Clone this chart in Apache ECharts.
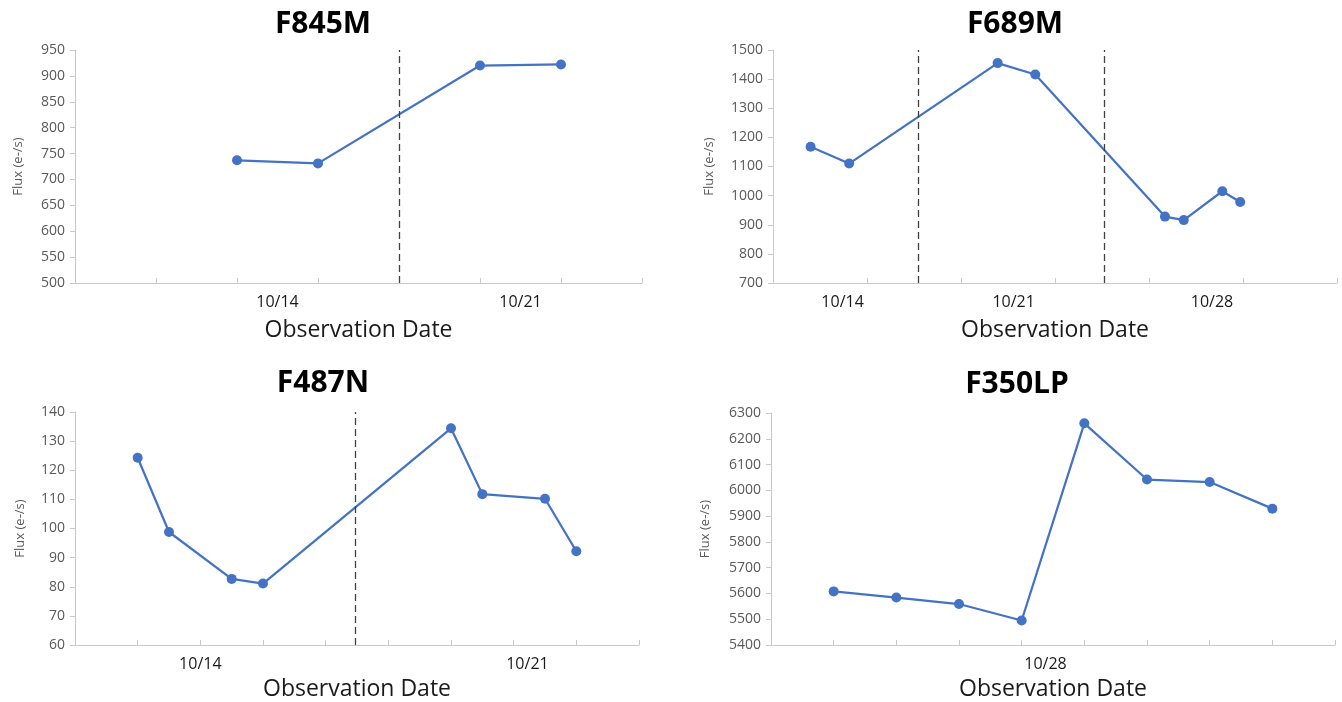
<!DOCTYPE html>
<html>
<head>
<meta charset="utf-8">
<script src="https://cdn.jsdelivr.net/npm/echarts@6/dist/echarts.min.js"></script>
<style>
  html, body { margin: 0; padding: 0; background: #fff; }
  #main { width: 1342px; height: 702px; }
</style>
</head>
<body>
<div id="main"></div>
<script>
// panel titles (filters)
var filters = ['F845M', 'F689M', 'F487N', 'F350LP'];

// x = position along the date axis, in tick units; y = flux (e-/s)
var f845mX = [2, 3, 5, 6];
var f845mY = [737, 731, 920, 922];
var f689mX = [0.40, 0.81, 2.39, 2.79, 4.17, 4.37, 4.78, 4.97];
var f689mY = [1168, 1110, 1455, 1416, 928, 916, 1015, 978];
var f487nX = [1, 1.5, 2.5, 3, 6, 6.5, 7.5, 8];
var f487nY = [124.3, 98.8, 82.7, 81.1, 134.4, 111.8, 110.2, 92.2];
var f350lpX = [1, 2, 3, 4, 5, 6, 7, 8];
var f350lpY = [5608, 5584, 5559, 5495, 6260, 6042, 6032, 5929];

// dashed separators (same x units)
var f845mBreaks = [4];
var f689mBreaks = [1.55, 3.52];
var f487nBreaks = [4.47];
var f350lpBreaks = [];

// date tick labels and where they sit
var f845mDatePos = [2.5, 5.5];
var f845mDates = ['10/14', '10/21'];
var f689mDatePos = [0.74, 2.56, 4.67];
var f689mDates = ['10/14', '10/21', '10/28'];
var f487nDatePos = [2, 7.22];
var f487nDates = ['10/14', '10/21'];
var f350lpDatePos = [4.38];
var f350lpDates = ['10/28'];

// number of tick intervals on each x axis
var xSpans = [7, 6, 9, 9];

// y axis ranges
var yMins = [500, 700, 60, 5400];
var yMaxs = [950, 1500, 140, 6300];
var ySteps = [50, 100, 10, 100];

var panels = [
    {x: f845mX, y: f845mY, breaks: f845mBreaks, pos: f845mDatePos, dates: f845mDates},
    {x: f689mX, y: f689mY, breaks: f689mBreaks, pos: f689mDatePos, dates: f689mDates},
    {x: f487nX, y: f487nY, breaks: f487nBreaks, pos: f487nDatePos, dates: f487nDates},
    {x: f350lpX, y: f350lpY, breaks: f350lpBreaks, pos: f350lpDatePos, dates: f350lpDates}
];

// layout of the four plot areas
var grids = [
    {left: 75, top: 50, width: 567, height: 233},
    {left: 773, top: 50, width: 564, height: 233},
    {left: 75, top: 412, width: 564, height: 233},
    {left: 771, top: 413, width: 564, height: 232}
];
var titlePos = [[318, 4], [1010, 4], [318, 363], [1012, 364]];
var xNameGap = [36, 36, 33, 33];
var yNameGap = [50, 57, 48, 59];

var lineColor = '#4472C4';
var axisGray = '#c9c9c9';
var labelGray = '#595959';

var myChart = echarts.init(document.getElementById('main'));

var option = {
    animation: false,
    backgroundColor: '#fff',
    title: [],
    grid: [],
    xAxis: [],
    yAxis: [],
    series: []
};

panels.forEach(function (p, i) {
    option.title.push({
        text: filters[i],
        left: titlePos[i][0],
        top: titlePos[i][1],
        textAlign: 'center',
        textStyle: {
            fontFamily: 'Open Sans',
            fontSize: 30,
            fontWeight: 'bold',
            color: '#000'
        }
    });
    option.grid.push({
        left: grids[i].left,
        top: grids[i].top,
        width: grids[i].width,
        height: grids[i].height
    });

    var ticks = [];
    for (var k = 1; k <= xSpans[i]; k++) {
        ticks.push(k);
    }
    option.xAxis.push({
        type: 'value',
        gridIndex: i,
        min: 0,
        max: xSpans[i],
        name: 'Observation Date',
        nameLocation: 'middle',
        nameGap: xNameGap[i],
        nameTextStyle: {
            fontFamily: 'Open Sans',
            fontSize: 23,
            color: '#1a1a1a'
        },
        axisLine: {
            show: true,
            lineStyle: {color: axisGray, width: 1}
        },
        axisTick: {
            show: true,
            inside: true,
            length: 5,
            customValues: ticks,
            lineStyle: {color: axisGray}
        },
        axisLabel: {
            show: true,
            customValues: p.pos,
            margin: 11,
            fontFamily: 'Open Sans',
            fontSize: 16,
            color: '#1a1a1a',
            formatter: function (v) {
                for (var j = 0; j < p.pos.length; j++) {
                    if (Math.abs(p.pos[j] - v) < 1e-6) return p.dates[j];
                }
                return '';
            }
        },
        splitLine: {show: false}
    });
    option.yAxis.push({
        type: 'value',
        gridIndex: i,
        min: yMins[i],
        max: yMaxs[i],
        interval: ySteps[i],
        name: 'Flux (e-/s)',
        nameLocation: 'middle',
        nameGap: yNameGap[i],
        nameTextStyle: {
            fontFamily: 'Open Sans',
            fontSize: 13,
            color: labelGray
        },
        axisLine: {
            show: true,
            lineStyle: {color: axisGray, width: 1}
        },
        axisTick: {
            show: true,
            length: 5,
            lineStyle: {color: axisGray}
        },
        axisLabel: {
            margin: 10,
            fontFamily: 'Open Sans',
            fontSize: 14,
            color: labelGray,
            formatter: function (v) { return String(v); }
        },
        splitLine: {show: false}
    });

    var pts = [];
    for (var n = 0; n < p.x.length; n++) {
        pts.push([p.x[n], p.y[n]]);
    }
    option.series.push({
        type: 'line',
        xAxisIndex: i,
        yAxisIndex: i,
        data: pts,
        symbol: 'circle',
        symbolSize: 10,
        itemStyle: {color: lineColor},
        lineStyle: {color: lineColor, width: 2.25},
        markLine: {
            silent: true,
            symbol: ['none', 'none'],
            label: {show: false},
            lineStyle: {color: '#404040', type: [7, 4], width: 1.3},
            data: p.breaks.map(function (b) { return {xAxis: b}; })
        }
    });
});

myChart.setOption(option);
</script>
</body>
</html>
